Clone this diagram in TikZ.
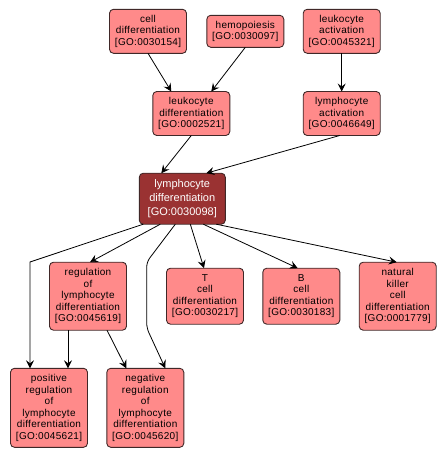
\documentclass[tikz,border=0pt]{standalone}
\usepackage{fontspec}
\setmainfont{Liberation Sans}[LetterSpace=3]
\newfontfamily\focusfont{Liberation Sans}
\usetikzlibrary{arrows.meta,positioning,calc}
\definecolor{termfill}{HTML}{FF8A8A}
\definecolor{focusfill}{HTML}{9A3232}
\definecolor{termline}{HTML}{402828}
\tikzset{
  term/.style={draw=termline,fill=termfill,line width=0.9pt,rounded corners=4pt,align=center,
    minimum width=77pt,inner sep=0pt,outer sep=0pt,font=\fontsize{10}{11.5}\selectfont},
  focus/.style={term,fill=focusfill,text=white,minimum width=86pt,font=\focusfont\fontsize{11}{14}\selectfont},
  link/.style={-{Stealth[length=8pt,width=8pt,inset=3pt]},line width=0.8pt}
}

\begin{document}
\begin{tikzpicture}[x=1pt,y=-1pt]
  \useasboundingbox (0,0) rectangle (447,458);
  % upper rows
  \node[term,minimum height=44pt] (celldiff) at (148,31.3){cell\\differentiation\\{}[GO:0030154]};
  \node[term,minimum height=32pt] (hemo) at (245.3,31.3){hemopoiesis\\{}[GO:0030097]};
  \node[term,minimum height=44pt] (leukact) at (341.7,31.3){leukocyte\\activation\\{}[GO:0045321]};
  \node[term,minimum height=44pt] (leukdiff) at (191.3,113.5){leukocyte\\differentiation\\{}[GO:0002521]};
  \node[term,minimum height=44pt] (lymphact) at (341.7,113.5){lymphocyte\\activation\\{}[GO:0046649]};
  \node[focus,minimum height=51pt] (lymphdiff) at (182.3,198.7){lymphocyte\\differentiation\\{}[GO:0030098]};
  % children
  \node[term,minimum height=68pt] (reglymph) at (88,296.2){regulation\\of\\lymphocyte\\differentiation\\{}[GO:0045619]};
  \node[term,minimum height=56pt] (tcell) at (205,296.2){T\\cell\\differentiation\\{}[GO:0030217]};
  \node[term,minimum height=56pt] (bcell) at (301.3,296.2){B\\cell\\differentiation\\{}[GO:0030183]};
  \node[term,minimum height=68pt] (nkcell) at (397.7,296.2){natural\\killer\\cell\\differentiation\\{}[GO:0001779]};
  \node[term,minimum height=79pt] (posreg) at (49,407.8){positive\\regulation\\of\\lymphocyte\\differentiation\\{}[GO:0045621]};
  \node[term,minimum height=79pt] (negreg) at (145.3,407.8){negative\\regulation\\of\\lymphocyte\\differentiation\\{}[GO:0045620]};
  \coordinate (posbend) at (30,262);
  \coordinate (negbend) at (146.7,262);
  \coordinate (negdrop) at (146.7,328);

  \draw[link] (celldiff.south) -- ([xshift=-20pt]leukdiff.north);
  \draw[link] (hemo.south) -- ([xshift=20pt]leukdiff.north);
  \draw[link] (leukact.south) -- (lymphact.north);
  \draw[link] (leukdiff.south) -- ([xshift=-21pt]lymphdiff.north);
  \draw[link] ([xshift=-2pt]lymphact.south) -- ([xshift=24pt]lymphdiff.north);
  \draw[link] ([xshift=-39pt]lymphdiff.south) -- (posbend) -- (posbend |- posreg.north);
  \draw[link] ([xshift=-22pt]lymphdiff.south) -- ([xshift=2pt]reglymph.north);
  \draw[link,rounded corners=5pt] ([xshift=-7pt]lymphdiff.south) -- (negbend) -- (negdrop) -- ([xshift=20pt]negreg.north);
  \draw[link] ([xshift=8pt]lymphdiff.south) -- ([xshift=-1pt]tcell.north);
  \draw[link] ([xshift=21pt]lymphdiff.south) -- ([xshift=-3.6pt]bcell.north);
  \draw[link] ([xshift=34pt]lymphdiff.south) -- ([xshift=-1pt]nkcell.north);
  \draw[link] ([xshift=-20pt]reglymph.south) -- ([xshift=-20pt]reglymph.south |- posreg.north);
  \draw[link] ([xshift=19pt]reglymph.south) -- ([xshift=-19pt]negreg.north);
\end{tikzpicture}
\end{document}
